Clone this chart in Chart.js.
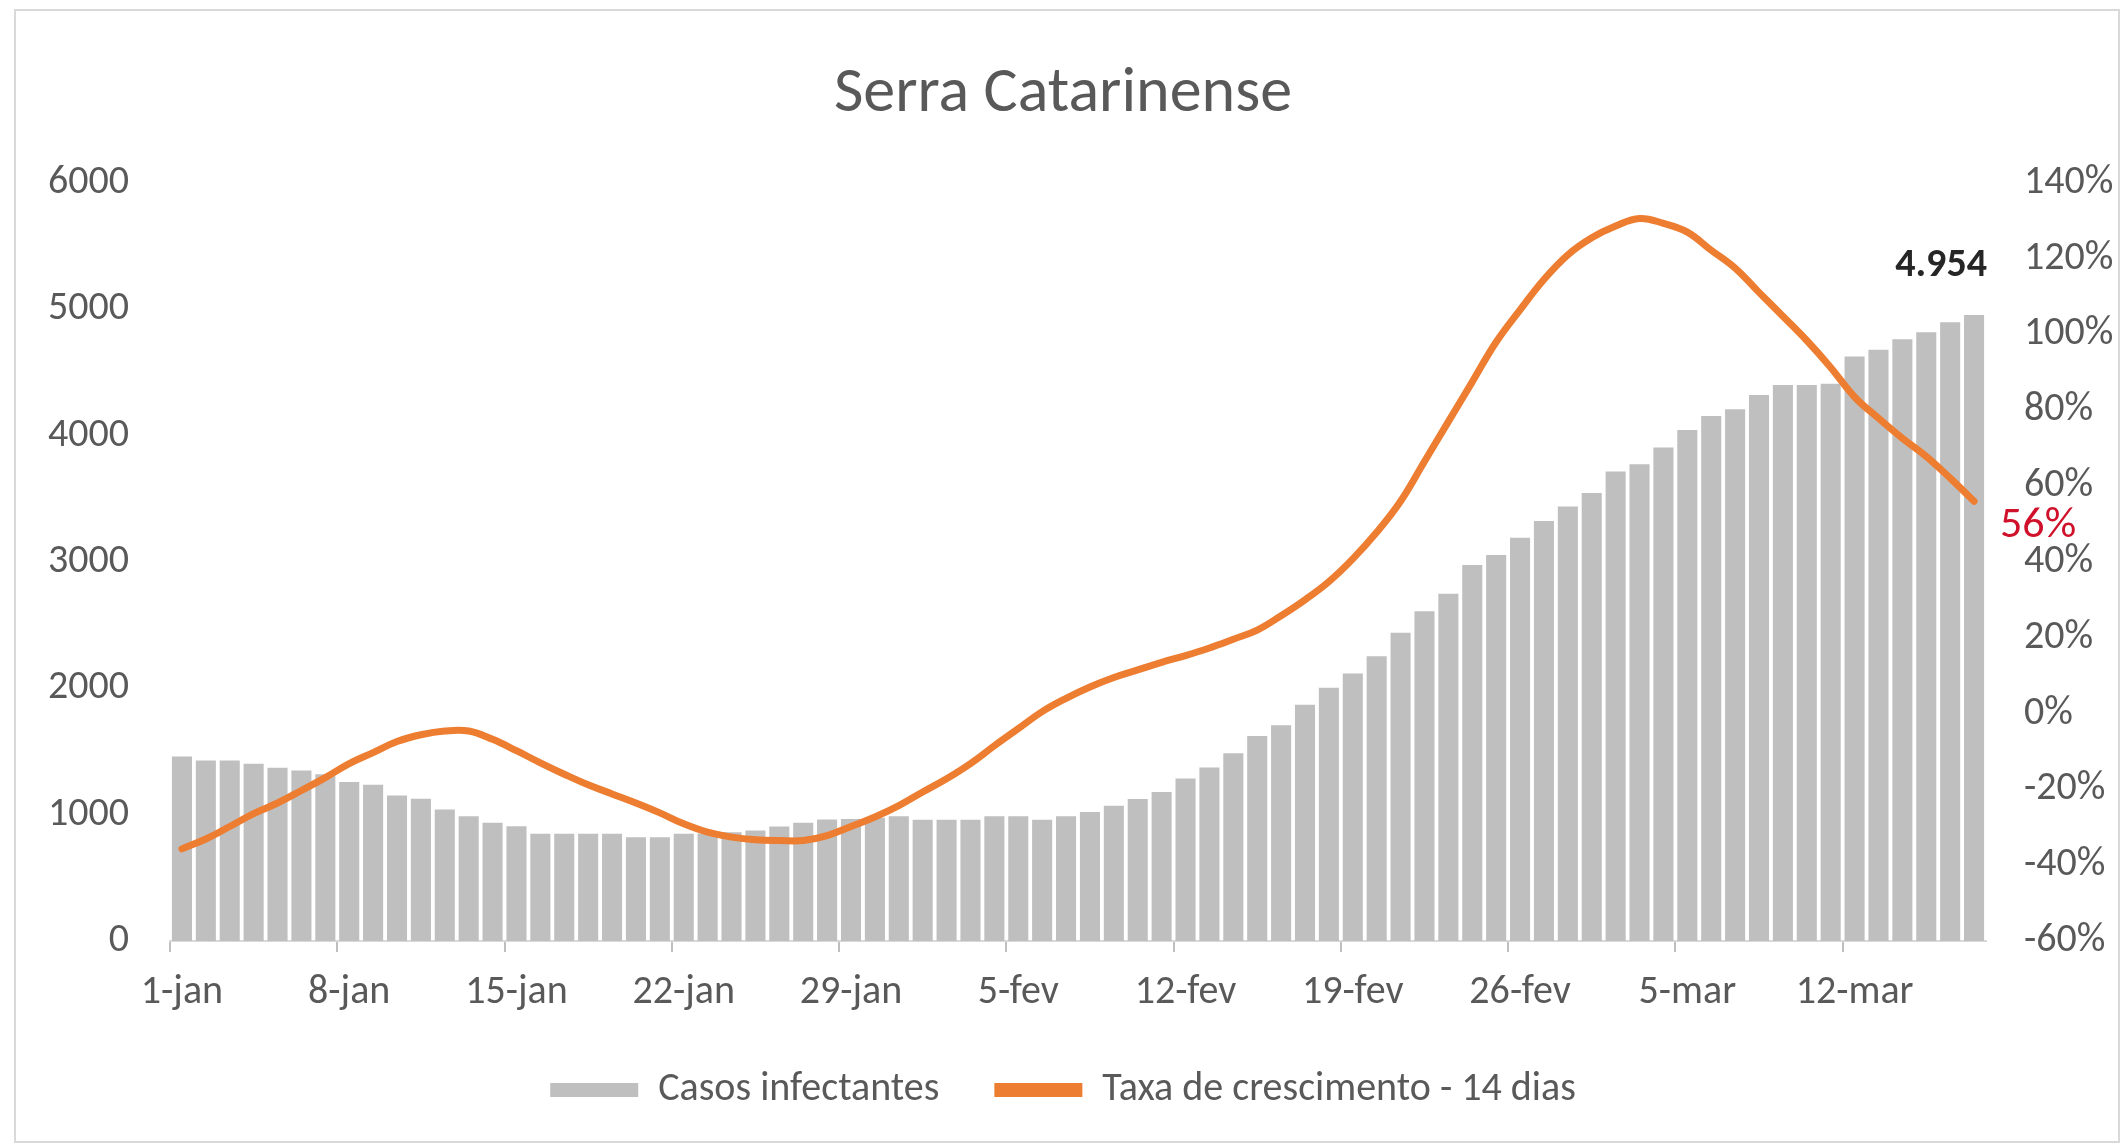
<!DOCTYPE html>
<html>
<head>
<meta charset="utf-8">
<title>Serra Catarinense</title>
<script src="https://cdn.jsdelivr.net/npm/chart.js@4.4.1/dist/chart.umd.min.js"></script>
<style>
  html, body { margin: 0; padding: 0; background: #fff; overflow: hidden; }
  canvas { display: block; }
</style>
</head>
<body>
<canvas id="chart" width="2126" height="1146"></canvas>
<script>
const FONT = "Carlito, 'Liberation Sans Narrow', 'Open Sans', sans-serif";

const dias = [
  '1-jan','2-jan','3-jan','4-jan','5-jan','6-jan','7-jan','8-jan','9-jan','10-jan',
  '11-jan','12-jan','13-jan','14-jan','15-jan','16-jan','17-jan','18-jan','19-jan','20-jan',
  '21-jan','22-jan','23-jan','24-jan','25-jan','26-jan','27-jan','28-jan','29-jan','30-jan',
  '31-jan','1-fev','2-fev','3-fev','4-fev','5-fev','6-fev','7-fev','8-fev','9-fev',
  '10-fev','11-fev','12-fev','13-fev','14-fev','15-fev','16-fev','17-fev','18-fev','19-fev',
  '20-fev','21-fev','22-fev','23-fev','24-fev','25-fev','26-fev','27-fev','28-fev','1-mar',
  '2-mar','3-mar','4-mar','5-mar','6-mar','7-mar','8-mar','9-mar','10-mar','11-mar',
  '12-mar','13-mar','14-mar','15-mar','16-mar','17-mar'
];

// casos infectantes (eixo esquerdo)
const casos = [
  1460, 1429, 1429, 1403, 1371, 1350, 1320, 1258, 1236, 1152,
  1125, 1041, 988, 935, 909, 848, 848, 848, 848, 822,
  822, 848, 850, 860, 874, 906, 935, 961, 965, 975,
  988, 959, 959, 959, 988, 988, 959, 988, 1020, 1070,
  1124, 1179, 1286, 1373, 1486, 1623, 1707, 1869, 2004, 2117,
  2253, 2440, 2609, 2748, 2975, 3055, 3191, 3323, 3438, 3545,
  3716, 3772, 3906, 4044, 4155, 4208, 4321, 4400, 4400, 4410,
  4625, 4678, 4762, 4818, 4897, 4954
];

// taxa de crescimento 14 dias, em % (eixo direito)
const taxa = [
  -35.7, -33.1, -29.8, -26.4, -23.6, -20.3, -16.9, -13.2, -10.3, -7.4,
  -5.6, -4.6, -4.6, -6.8, -9.8, -13.0, -16.0, -18.8, -21.2, -23.6,
  -26.2, -29.1, -31.3, -32.6, -33.3, -33.5, -33.5, -32.2, -29.8, -27.3,
  -24.3, -20.7, -17.2, -13.2, -8.5, -4.0, 0.5, 4.0, 7.0, 9.5,
  11.5, 13.5, 15.3, 17.3, 19.6, 22.0, 25.8, 30.0, 34.8, 40.8,
  47.8, 56.0, 66.5, 77.0, 87.5, 98.0, 106.5, 114.5, 121.0, 125.5,
  128.6, 130.6, 129.3, 127.0, 122.2, 117.5, 111.1, 104.8, 98.4, 91.3,
  83.5, 77.9, 72.6, 67.8, 62.1, 56.0
];

const GRAY = '#bfbfbf';
const ORANGE = '#ed7d31';
const TEXT = '#595959';

// white background + thin frame like the spreadsheet chart area
const framePlugin = {
  id: 'frame',
  beforeDraw(chart) {
    const ctx = chart.ctx;
    ctx.save();
    ctx.fillStyle = '#fff';
    ctx.fillRect(0, 0, chart.width, chart.height);
    ctx.strokeStyle = '#d9d9d9';
    ctx.lineWidth = 2;
    ctx.strokeRect(15, 10, chart.width - 22, chart.height - 14);
    ctx.restore();
  }
};

// value labels on the last point of each series
const lastLabels = {
  id: 'lastLabels',
  afterDatasetsDraw(chart) {
    const last = casos.length - 1;
    const bar = chart.getDatasetMeta(0).data[last];
    const pt = chart.getDatasetMeta(1).data[last];
    const ctx = chart.ctx;
    ctx.save();
    ctx.textBaseline = 'middle';
    ctx.textAlign = 'center';
    ctx.fillStyle = '#262626';
    ctx.font = 'bold 40px ' + FONT;
    ctx.fillText(casos[last].toLocaleString('pt-BR'), bar.x - 33, bar.y - 49);
    ctx.textAlign = 'left';
    ctx.fillStyle = '#d0112b';
    ctx.font = '44px ' + FONT;
    ctx.fillText(Math.round(taxa[last]) + '%', pt.x + 26, pt.y + 25);
    ctx.restore();
  }
};

new Chart(document.getElementById('chart'), {
  data: {
    labels: dias,
    datasets: [
      {
        type: 'bar',
        label: 'Casos infectantes',
        data: casos,
        backgroundColor: GRAY,
        yAxisID: 'y',
        barPercentage: 0.84,
        categoryPercentage: 1,
        order: 2
      },
      {
        type: 'line',
        label: 'Taxa de crescimento - 14 dias',
        data: taxa,
        borderColor: ORANGE,
        borderWidth: 7,
        borderCapStyle: 'round',
        borderJoinStyle: 'round',
        pointRadius: 0,
        tension: 0.4,
        yAxisID: 'y1',
        order: 1
      }
    ]
  },
  options: {
    responsive: false,
    animation: false,
    layout: { padding: { top: 0, left: 0, right: 0, bottom: 26 } },
    scales: {
      x: {
        grid: {
          display: true,
          drawOnChartArea: false,
          drawTicks: true,
          tickLength: 11,
          lineWidth: 2,
          color: c => (c.index % 7 === 0 ? '#bfbfbf' : 'rgba(0,0,0,0)')
        },
        border: { display: true, color: '#d9d9d9', width: 2 },
        ticks: {
          autoSkip: false,
          maxRotation: 0,
          padding: 17,
          color: TEXT,
          font: { family: FONT, size: 40 },
          callback: (v, i) => (i % 7 === 0 ? dias[i] : '')
        },
        afterFit: s => { s.height = 74; }
      },
      y: {
        position: 'left',
        min: 0,
        max: 6000,
        grid: { display: false, drawTicks: false },
        border: { display: false },
        ticks: {
          stepSize: 1000,
          padding: 41,
          color: TEXT,
          font: { family: FONT, size: 40 },
          callback: v => String(v)
        },
        afterFit: s => { s.width = 170; }
      },
      y1: {
        position: 'right',
        min: -60,
        max: 140,
        grid: { display: false, drawTicks: false },
        border: { display: false },
        ticks: {
          stepSize: 20,
          padding: 38,
          color: TEXT,
          font: { family: FONT, size: 40 },
          callback: v => v + '%'
        },
        afterFit: s => { s.width = 140; }
      }
    },
    plugins: {
      title: {
        display: true,
        text: 'Serra Catarinense',
        color: TEXT,
        font: { family: FONT, size: 64, weight: 'normal' },
        padding: { top: 57, bottom: 49 }
      },
      legend: {
        position: 'bottom',
        labels: {
          color: TEXT,
          font: { family: FONT, size: 40 },
          boxWidth: 88,
          boxHeight: 14,
          padding: 55,
          generateLabels: () => [
            { text: 'Casos infectantes', fillStyle: GRAY, strokeStyle: GRAY, lineWidth: 0, fontColor: TEXT, datasetIndex: 0 },
            { text: 'Taxa de crescimento - 14 dias', fillStyle: ORANGE, strokeStyle: ORANGE, lineWidth: 0, fontColor: TEXT, datasetIndex: 1 }
          ]
        }
      },
      tooltip: { enabled: false }
    }
  },
  plugins: [framePlugin, lastLabels]
});
</script>
</body>
</html>
